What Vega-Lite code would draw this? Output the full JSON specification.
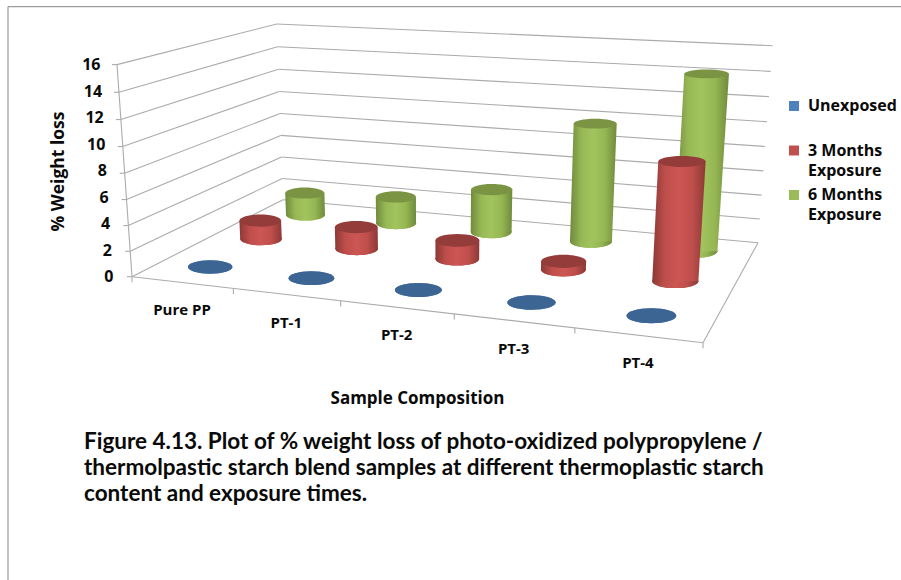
{
  "$schema": "https://vega.github.io/schema/vega-lite/v6.json",
  "width": 901,
  "height": 580,
  "padding": 0,
  "autosize": {"type": "none"},
  "background": "white",
  "config": {"view": {"stroke": null}},
  "title": {
    "text": [
      "Figure 4.13.  Plot of % weight loss of photo-oxidized polypropylene /",
      "thermolpastic starch blend samples at different thermoplastic starch",
      "content and exposure times."
    ],
    "anchor": "start",
    "frame": "group",
    "orient": "top",
    "baseline": "top",
    "offset": 0,
    "dx": 84,
    "dy": 505,
    "font": "Lato",
    "fontSize": 22.5,
    "fontWeight": "bold",
    "lineHeight": 26,
    "color": "#0a0a0a"
  },
  "datasets": {
    "frameEdges": [
      {"wall": "left", "level": 0}, {"wall": "left", "level": 2}, {"wall": "left", "level": 4},
      {"wall": "left", "level": 6}, {"wall": "left", "level": 8}, {"wall": "left", "level": 10},
      {"wall": "left", "level": 12}, {"wall": "left", "level": 14}, {"wall": "left", "level": 16},
      {"wall": "back", "level": 0}, {"wall": "back", "level": 2}, {"wall": "back", "level": 4},
      {"wall": "back", "level": 6}, {"wall": "back", "level": 8}, {"wall": "back", "level": 10},
      {"wall": "back", "level": 12}, {"wall": "back", "level": 14}, {"wall": "back", "level": 16},
      {"wall": "front", "level": 0}, {"wall": "side", "level": 0}, {"wall": "post", "level": 0}
    ],
    "levels": [
      {"level": 0}, {"level": 2}, {"level": 4}, {"level": 6}, {"level": 8},
      {"level": 10}, {"level": 12}, {"level": 14}, {"level": 16}
    ],
    "sampleEdges": [
      {"edge": 0}, {"edge": 1}, {"edge": 2}, {"edge": 3}, {"edge": 4}, {"edge": 5}
    ],
    "samples": [
      {"sample": "Pure PP", "slot": 0}, {"sample": "PT-1", "slot": 1}, {"sample": "PT-2", "slot": 2},
      {"sample": "PT-3", "slot": 3}, {"sample": "PT-4", "slot": 4}
    ]
  },
  "data": {
    "values": [
      {"sample": "Pure PP", "slot": 0, "rank": 0, "series": "Unexposed", "value": 0},
      {"sample": "PT-1", "slot": 1, "rank": 0, "series": "Unexposed", "value": 0},
      {"sample": "PT-2", "slot": 2, "rank": 0, "series": "Unexposed", "value": 0},
      {"sample": "PT-3", "slot": 3, "rank": 0, "series": "Unexposed", "value": 0},
      {"sample": "PT-4", "slot": 4, "rank": 0, "series": "Unexposed", "value": 0},
      {"sample": "Pure PP", "slot": 0, "rank": 1, "series": "3 Months Exposure", "value": 1.58},
      {"sample": "PT-1", "slot": 1, "rank": 1, "series": "3 Months Exposure", "value": 1.82},
      {"sample": "PT-2", "slot": 2, "rank": 1, "series": "3 Months Exposure", "value": 1.52},
      {"sample": "PT-3", "slot": 3, "rank": 1, "series": "3 Months Exposure", "value": 0.68},
      {"sample": "PT-4", "slot": 4, "rank": 1, "series": "3 Months Exposure", "value": 9.1},
      {"sample": "Pure PP", "slot": 0, "rank": 2, "series": "6 Months Exposure", "value": 1.96},
      {"sample": "PT-1", "slot": 1, "rank": 2, "series": "6 Months Exposure", "value": 2.33},
      {"sample": "PT-2", "slot": 2, "rank": 2, "series": "6 Months Exposure", "value": 3.67},
      {"sample": "PT-3", "slot": 3, "rank": 2, "series": "6 Months Exposure", "value": 9.78},
      {"sample": "PT-4", "slot": 4, "rank": 2, "series": "6 Months Exposure", "value": 14.2}
    ]
  },
  "transform": [
    {"calculate": "0", "as": "zero"},
    {"fold": ["zero", "value"], "as": ["end", "lvl"]},
    {"calculate": "(2*datum.slot+1)/10", "as": "u"},
    {"calculate": "(2*datum.rank+1)/6", "as": "v"},
    {"calculate": "datum.lvl/16", "as": "w"},
    {"calculate": "1-0.1363*datum.u+0.2179*datum.v-0.047*datum.w", "as": "depth"},
    {"calculate": "(475.2*datum.u+212.7*datum.v+132-20.5*datum.w)/datum.depth", "as": "px"},
    {"calculate": "(277-(19.25*datum.u-33.42*datum.v+277-215.1*datum.w)/datum.depth)/13.23", "as": "el"},
    {"calculate": "45.5/datum.depth", "as": "dia"},
    {"calculate": "datum.px-datum.dia/2", "as": "pxL"},
    {"calculate": "datum.px+datum.dia/2", "as": "pxR"},
    {"calculate": "datum.dia*datum.dia", "as": "sz"},
    {"calculate": "format(0.3-0.12*datum.w,'.3f')", "as": "ry"},
    {"calculate": "format(0.5523*(0.3-0.12*datum.w),'.3f')", "as": "ky"},
    {"calculate": "'M-1,0C-1,-'+datum.ky+',-0.5523,-'+datum.ry+',0,-'+datum.ry+'C0.5523,-'+datum.ry+',1,-'+datum.ky+',1,0C1,'+datum.ky+',0.5523,'+datum.ry+',0,'+datum.ry+'C-0.5523,'+datum.ry+',-1,'+datum.ky+',-1,0Z'", "as": "disc"}
  ],
  "encoding": {
    "x": {
      "type": "quantitative",
      "scale": {"domain": [0, 901], "nice": false, "zero": false},
      "axis": {
        "title": "Sample Composition",
        "labels": false, "ticks": false, "domain": false, "grid": false,
        "titleFont": "Open Sans", "titleFontSize": 17, "titleFontWeight": "bold", "titleColor": "#0a0a0a",
        "titleX": 417, "titleY": -182, "titleBaseline": "middle", "titleAnchor": "middle", "titleAlign": "center"
      }
    },
    "y": {
      "type": "quantitative",
      "scale": {"domain": [-22.92, 20.91], "nice": false, "zero": false},
      "axis": {
        "title": "% Weight loss",
        "values": [0, 2, 4, 6, 8, 10, 12, 14, 16],
        "ticks": false, "domain": false, "grid": false, "offset": -100, "labelPadding": 0,
        "labelFont": "Open Sans", "labelFontSize": 16, "labelFontWeight": "bold", "labelColor": "#0a0a0a",
        "encoding": {"labels": {"dx": {"value": {"signal": "13*(1-datum.value/16)"}}}},
        "titleFont": "Open Sans", "titleFontSize": 17.5, "titleFontWeight": "bold", "titleColor": "#0a0a0a",
        "titleX": -42, "titleY": 171, "titleAngle": -90, "titleAlign": "center", "titleBaseline": "middle"
      }
    }
  },
  "layer": [
    {
      "data": {"values": [{"page": "frame"}]},
      "mark": {"type": "rule", "color": "#9c9c9c", "strokeWidth": 1.2},
      "encoding": {
        "x": {"datum": 8},
        "y": {"datum": 20.41},
        "y2": {"datum": -22.92}
      }
    },
    {
      "data": {"values": [{"page": "frame"}]},
      "mark": {"type": "rule", "color": "#9c9c9c", "strokeWidth": 1.2},
      "encoding": {
        "y": {"datum": 20.41},
        "x": {"datum": 8},
        "x2": {"datum": 901}
      }
    },
    {
      "data": {"name": "frameEdges"},
      "transform": [
        {"calculate": "datum.wall==='side'?1:0", "as": "u0"},
        {"calculate": "datum.wall==='left'||datum.wall==='post'?0:1", "as": "u1"},
        {"calculate": "datum.wall==='back'?1:0", "as": "v0"},
        {"calculate": "datum.wall==='front'||datum.wall==='post'?0:1", "as": "v1"},
        {"calculate": "datum.level/16", "as": "w0"},
        {"calculate": "datum.wall==='post'?1:datum.level/16", "as": "w1"},
        {"calculate": "1-0.1363*datum.u0+0.2179*datum.v0-0.047*datum.w0", "as": "d0"},
        {"calculate": "1-0.1363*datum.u1+0.2179*datum.v1-0.047*datum.w1", "as": "d1"},
        {"calculate": "(475.2*datum.u0+212.7*datum.v0+132-20.5*datum.w0)/datum.d0", "as": "x0"},
        {"calculate": "(475.2*datum.u1+212.7*datum.v1+132-20.5*datum.w1)/datum.d1", "as": "x1"},
        {"calculate": "(277-(19.25*datum.u0-33.42*datum.v0+277-215.1*datum.w0)/datum.d0)/13.23", "as": "e0"},
        {"calculate": "(277-(19.25*datum.u1-33.42*datum.v1+277-215.1*datum.w1)/datum.d1)/13.23", "as": "e1"}
      ],
      "mark": {"type": "rule", "color": "#ababab", "strokeWidth": 1.1},
      "encoding": {
        "x": {"field": "x0", "type": "quantitative"},
        "x2": {"field": "x1"},
        "y": {"field": "e0", "type": "quantitative"},
        "y2": {"field": "e1"}
      }
    },
    {
      "data": {"name": "levels"},
      "transform": [
        {"calculate": "datum.level/16", "as": "w"},
        {"calculate": "(132-20.5*datum.w)/(1-0.047*datum.w)", "as": "x0"},
        {"calculate": "datum.x0-5", "as": "x1"},
        {"calculate": "(277-(277-215.1*datum.w)/(1-0.047*datum.w))/13.23", "as": "e0"}
      ],
      "mark": {"type": "rule", "color": "#ababab", "strokeWidth": 1.1},
      "encoding": {
        "x": {"field": "x0", "type": "quantitative"},
        "x2": {"field": "x1"},
        "y": {"field": "e0", "type": "quantitative"}
      }
    },
    {
      "data": {"name": "sampleEdges"},
      "transform": [
        {"calculate": "datum.edge/5", "as": "u"},
        {"calculate": "1-0.1363*datum.u", "as": "d"},
        {"calculate": "(475.2*datum.u+132)/datum.d", "as": "x0"},
        {"calculate": "(277-(19.25*datum.u+277)/datum.d)/13.23", "as": "e0"},
        {"calculate": "datum.e0-0.42", "as": "e1"}
      ],
      "mark": {"type": "rule", "color": "#ababab", "strokeWidth": 1.1},
      "encoding": {
        "x": {"field": "x0", "type": "quantitative"},
        "y": {"field": "e0", "type": "quantitative"},
        "y2": {"field": "e1"}
      }
    },
    {
      "data": {"name": "samples"},
      "transform": [
        {"calculate": "(2*datum.slot+1)/10", "as": "u"},
        {"calculate": "1-0.1363*datum.u", "as": "d"},
        {"calculate": "(475.2*datum.u+132)/datum.d", "as": "x0"},
        {"calculate": "(277-(19.25*datum.u+277)/datum.d)/13.23", "as": "e0"}
      ],
      "mark": {"type": "text", "font": "Open Sans", "fontSize": 15, "fontWeight": "bold", "color": "#0a0a0a", "dy": 28, "baseline": "middle", "align": "center"},
      "encoding": {
        "x": {"field": "x0", "type": "quantitative"},
        "y": {"field": "e0", "type": "quantitative"},
        "text": {"field": "sample"}
      }
    },
    {
      "transform": [{"filter": "datum.end==='zero'"}],
      "mark": {"type": "point", "filled": true, "opacity": 1},
      "encoding": {
        "x": {"field": "px", "type": "quantitative"},
        "y": {"field": "el", "type": "quantitative"},
        "shape": {"field": "disc", "type": "nominal", "scale": null},
        "size": {"field": "sz", "type": "quantitative", "scale": null},
        "color": {
          "field": "series",
          "type": "nominal",
          "scale": {"domain": ["Unexposed", "3 Months Exposure", "6 Months Exposure"], "range": ["#4f81bd", "#c0504d", "#9bbb59"]},
          "legend": {
            "title": null,
            "orient": "none",
            "legendX": 786,
            "legendY": 98,
            "symbolType": "square",
            "symbolSize": 100,
            "symbolStrokeWidth": 0,
            "gridAlign": "all",
            "rowPadding": 8.5,
            "labelOffset": 6,
            "labelFont": "Open Sans",
            "labelFontSize": 16,
            "labelFontWeight": "bold",
            "labelColor": "#0a0a0a",
            "labelLimit": 120,
            "labelExpr": "split(replace(datum.label,' Exposure','|Exposure'),'|')",
            "encoding": {"labels": {"lineHeight": {"value": 20}}}
          }
        }
      }
    },
    {
      "transform": [{"filter": "datum.rank===2 && datum.end==='zero'"}],
      "mark": {"type": "point", "filled": true, "opacity": 1, "fill": {"gradient": "linear", "x1": 0, "y1": 0, "x2": 1, "y2": 0, "stops": [{"offset": 0, "color": "#6f8a3c"}, {"offset": 0.25, "color": "#97b855"}, {"offset": 0.5, "color": "#a2c45e"}, {"offset": 0.75, "color": "#95b653"}, {"offset": 1, "color": "#6f8a3c"}]}},
      "encoding": {
        "x": {"field": "px", "type": "quantitative"},
        "y": {"field": "el", "type": "quantitative"},
        "shape": {"field": "disc", "type": "nominal", "scale": null},
        "size": {"field": "sz", "type": "quantitative", "scale": null}
      }
    },
    {
      "transform": [{"filter": "datum.rank===2"}],
      "mark": {"type": "area", "orient": "horizontal", "fill": {"gradient": "linear", "x1": 0, "y1": 0, "x2": 1, "y2": 0, "stops": [{"offset": 0, "color": "#6f8a3c"}, {"offset": 0.25, "color": "#97b855"}, {"offset": 0.5, "color": "#a2c45e"}, {"offset": 0.75, "color": "#95b653"}, {"offset": 1, "color": "#6f8a3c"}]}},
      "encoding": {
        "y": {"field": "el", "type": "quantitative"},
        "x": {"field": "pxL", "type": "quantitative"},
        "x2": {"field": "pxR"},
        "detail": {"field": "sample"}
      }
    },
    {
      "transform": [{"filter": "datum.rank===2 && datum.end==='value'"}],
      "mark": {"type": "point", "filled": true, "opacity": 1, "fill": "#7a9444"},
      "encoding": {
        "x": {"field": "px", "type": "quantitative"},
        "y": {"field": "el", "type": "quantitative"},
        "shape": {"field": "disc", "type": "nominal", "scale": null},
        "size": {"field": "sz", "type": "quantitative", "scale": null}
      }
    },
    {
      "transform": [{"filter": "datum.rank===1 && datum.end==='zero'"}],
      "mark": {"type": "point", "filled": true, "opacity": 1, "fill": {"gradient": "linear", "x1": 0, "y1": 0, "x2": 1, "y2": 0, "stops": [{"offset": 0, "color": "#8c3936"}, {"offset": 0.25, "color": "#bf4f4c"}, {"offset": 0.5, "color": "#cc5653"}, {"offset": 0.75, "color": "#bf4f4c"}, {"offset": 1, "color": "#8c3936"}]}},
      "encoding": {
        "x": {"field": "px", "type": "quantitative"},
        "y": {"field": "el", "type": "quantitative"},
        "shape": {"field": "disc", "type": "nominal", "scale": null},
        "size": {"field": "sz", "type": "quantitative", "scale": null}
      }
    },
    {
      "transform": [{"filter": "datum.rank===1"}],
      "mark": {"type": "area", "orient": "horizontal", "fill": {"gradient": "linear", "x1": 0, "y1": 0, "x2": 1, "y2": 0, "stops": [{"offset": 0, "color": "#8c3936"}, {"offset": 0.25, "color": "#bf4f4c"}, {"offset": 0.5, "color": "#cc5653"}, {"offset": 0.75, "color": "#bf4f4c"}, {"offset": 1, "color": "#8c3936"}]}},
      "encoding": {
        "y": {"field": "el", "type": "quantitative"},
        "x": {"field": "pxL", "type": "quantitative"},
        "x2": {"field": "pxR"},
        "detail": {"field": "sample"}
      }
    },
    {
      "transform": [{"filter": "datum.rank===1 && datum.end==='value'"}],
      "mark": {"type": "point", "filled": true, "opacity": 1, "fill": "#943c39"},
      "encoding": {
        "x": {"field": "px", "type": "quantitative"},
        "y": {"field": "el", "type": "quantitative"},
        "shape": {"field": "disc", "type": "nominal", "scale": null},
        "size": {"field": "sz", "type": "quantitative", "scale": null}
      }
    },
    {
      "transform": [{"filter": "datum.rank===0 && datum.end==='value'"}],
      "mark": {"type": "point", "filled": true, "opacity": 1, "fill": "#3d6593"},
      "encoding": {
        "x": {"field": "px", "type": "quantitative"},
        "y": {"field": "el", "type": "quantitative"},
        "shape": {"field": "disc", "type": "nominal", "scale": null},
        "size": {"field": "sz", "type": "quantitative", "scale": null}
      }
    }
  ]
}
